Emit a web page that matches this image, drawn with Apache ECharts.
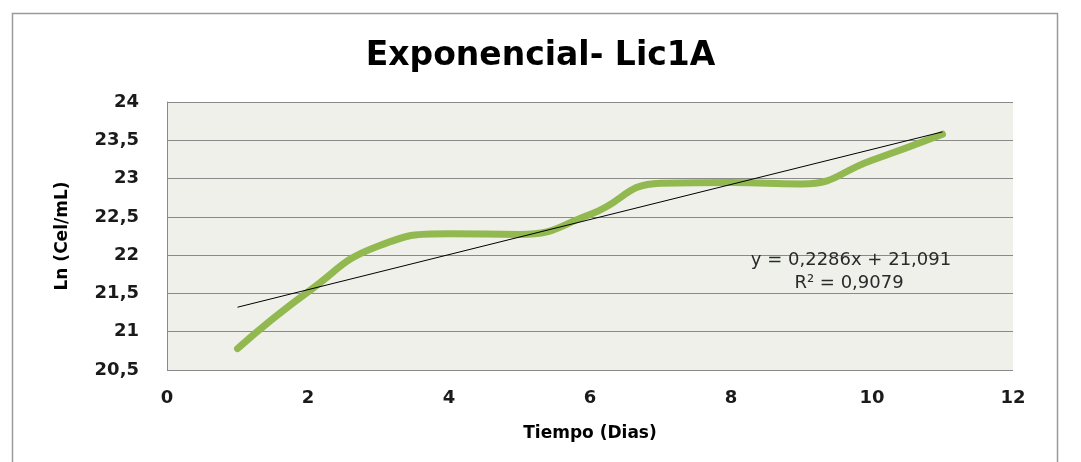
<!DOCTYPE html>
<html>
<head>
<meta charset="utf-8">
<script src="https://cdn.jsdelivr.net/npm/echarts@6/dist/echarts.min.js"></script>
<style>
html,body{margin:0;padding:0;background:#fff;}
#chart{width:1081px;height:462px;}
</style>
</head>
<body>
<div id="chart"></div>
<script>
// Data
const days = [1, 2, 3, 4, 5, 6, 7, 8, 9, 10, 11];
const lnCel = [20.78, 21.52, 22.12, 22.28, 22.27, 22.53, 22.94, 22.95, 22.93, 23.24, 23.58];
const trendX = [1, 11];
const trendY = [21.32, 23.61];
const titleText = 'Exponencial- Lic1A';
const xName = 'Tiempo (Dias)';
const yName = 'Ln (Cel/mL)';
const eqLines = ['y = 0,2286x + 21,091', 'R² = 0,9079'];

const FONT = 'DejaVu Sans';
const chart = echarts.init(document.getElementById('chart'), null, {renderer: 'canvas'});
chart.setOption({
  animation: false,
  backgroundColor: '#ffffff',
  title: {
    text: titleText,
    left: 'center',
    top: 35,
    textStyle: {fontFamily: FONT, fontSize: 33, fontWeight: 'bold', color: '#000'}
  },
  grid: {left: 167, right: 68, top: 102, bottom: 92, show: true, backgroundColor: '#eef0e9', borderWidth: 0},
  xAxis: {
    type: 'value', min: 0, max: 12, interval: 2,
    name: xName, nameLocation: 'middle', nameGap: 55,
    nameTextStyle: {fontFamily: FONT, fontSize: 17, fontWeight: 'bold', color: '#000'},
    axisLine: {show: false},
    axisTick: {show: false},
    splitLine: {show: false},
    axisLabel: {margin: 19, fontFamily: FONT, fontSize: 18, fontWeight: 'bold', color: '#1a1a1a'}
  },
  yAxis: {
    type: 'value', min: 20.5, max: 24, interval: 0.5,
    name: yName, nameLocation: 'middle', nameGap: 96,
    nameTextStyle: {fontFamily: FONT, fontSize: 17, fontWeight: 'bold', color: '#000'},
    axisLine: {show: true, lineStyle: {color: '#8a8a8a', width: 1}},
    axisTick: {show: false},
    splitLine: {show: true, lineStyle: {color: '#8a8a8a', width: 1}},
    axisLabel: {margin: 28, fontFamily: FONT, fontSize: 18, fontWeight: 'bold', color: '#1a1a1a',
      formatter: v => String(v).replace('.', ',')}
  },
  series: [
    {
      type: 'line', data: days.map((d, i) => [d, lnCel[i]]),
      smooth: 0.5, showSymbol: false, symbol: 'none',
      lineStyle: {color: '#92b850', width: 7, cap: 'round', join: 'round'},
      z: 2
    },
    {
      type: 'line', data: trendX.map((d, i) => [d, trendY[i]]),
      showSymbol: false, symbol: 'none',
      lineStyle: {color: '#000', width: 1},
      z: 3
    }
  ],
  graphic: [
    {type: 'rect', shape: {x: 12.5, y: 13.5, width: 1045, height: 470},
     style: {fill: null, stroke: '#9a9a9a', lineWidth: 1.5}, z: 0, silent: true},
    {type: 'text', x: 851, y: 260, style: {text: eqLines[0], fontFamily: FONT, fontSize: 18,
      fill: '#2a2a2a', align: 'center', verticalAlign: 'middle'}, z: 10},
    {type: 'text', x: 849, y: 283, style: {text: eqLines[1], fontFamily: FONT, fontSize: 18,
      fill: '#2a2a2a', align: 'center', verticalAlign: 'middle'}, z: 10}
  ]
});
</script>
</body>
</html>
